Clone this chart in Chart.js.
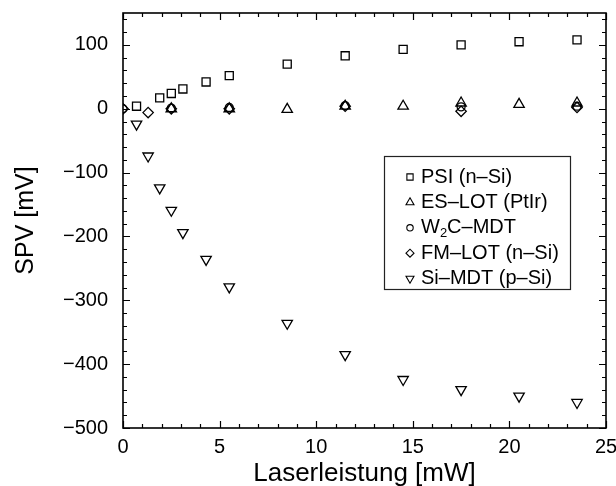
<!DOCTYPE html>
<html>
<head>
<meta charset="utf-8">
<script src="https://cdn.jsdelivr.net/npm/chart.js@4/dist/chart.umd.min.js"></script>
<style>
html,body{margin:0;padding:0;background:#fff;}
#wrap{width:616px;height:486px;}
</style>
</head>
<body>
<div id="wrap"><canvas id="c" width="616" height="486"></canvas></div>
<script>
// ---- data ----
const psiX = [0.7, 1.9, 2.5, 3.1, 4.3, 5.5, 8.5, 11.5, 14.5, 17.5, 20.5, 23.5];
const psiY = [4, 17, 24, 31, 42, 52, 70, 83, 93, 100, 105, 108];

const esX = [2.5, 5.5, 8.5, 11.5, 14.5, 17.5, 20.5, 23.5];
const esY = [0, 0, -1, 4, 4, 9, 7, 9];

const w2cX = [0, 2.5, 5.5, 11.5, 17.5, 23.5];
const w2cY = [0, 1, 2, 5, 3, 4];

const fmX = [0, 1.3, 2.5, 5.5, 11.5, 17.5, 23.5];
const fmY = [0, -6, 0, 0, 4, -4, 2];

const siX = [0.7, 1.3, 1.9, 2.5, 3.1, 4.3, 5.5, 8.5, 11.5, 14.5, 17.5, 20.5, 23.5];
const siY = [-24, -74, -124, -159, -194, -236, -279, -336, -385, -424, -440, -450, -460];

const xTickValues = [0, 5, 10, 15, 20, 25];
const yTickValues = [-500, -400, -300, -200, -100, 0, 100];
const legendLabels = ['PSI (n–Si)', 'ES–LOT (PtIr)', 'W|2|C–MDT', 'FM–LOT (n–Si)', 'Si–MDT (p–Si)'];
const xTitle = 'Laserleistung [mW]';
const yTitle = 'SPV [mV]';

const FONT = "'Liberation Sans', Arial, Helvetica, sans-serif";

function pts(xs, ys) { return xs.map((x, i) => ({x: x, y: ys[i]})); }

const styles = [
  {pointStyle: 'rect', radius: 5.7, rotation: 0},
  {pointStyle: 'triangle', radius: 6, rotation: 0},
  {pointStyle: 'circle', radius: 4, rotation: 0},
  {pointStyle: 'rectRot', radius: 5.2, rotation: 0},
  {pointStyle: 'triangle', radius: 6, rotation: 180}
];
const series = [pts(psiX, psiY), pts(esX, esY), pts(w2cX, w2cY), pts(fmX, fmY), pts(siX, siY)];

const datasets = series.map((d, i) => ({
  label: legendLabels[i].replace(/\|/g, ''),
  data: d,
  showLine: false,
  pointStyle: styles[i].pointStyle,
  pointRadius: styles[i].radius,
  pointHoverRadius: styles[i].radius,
  pointRotation: styles[i].rotation,
  pointBorderColor: '#000',
  pointBackgroundColor: 'rgba(0,0,0,0)',
  pointBorderWidth: 1.3,
  borderColor: '#000',
  backgroundColor: 'rgba(0,0,0,0)'
}));

function drawMarker(ctx, style, r, rot, x, y) {
  if (Chart.helpers && Chart.helpers.drawPoint) {
    ctx.save();
    ctx.fillStyle = 'rgba(0,0,0,0)';
    ctx.strokeStyle = '#000';
    ctx.lineWidth = 1.1;
    Chart.helpers.drawPoint(ctx, {pointStyle: style, radius: r, rotation: rot, borderWidth: 1.1}, x, y);
    ctx.restore();
  }
}

const framePlugin = {
  id: 'frameTicks',
  afterDraw(chart) {
    const ctx = chart.ctx;
    const a = chart.chartArea;
    const xs = chart.scales.x, ys = chart.scales.y;
    ctx.save();
    ctx.strokeStyle = '#000';
    ctx.lineWidth = 1.2;
    ctx.beginPath();
    for (let v = xs.min; v <= xs.max + 1e-9; v += 1) {
      const px = Math.round(xs.getPixelForValue(v)) + 0.5;
      const len = (Math.abs(v % 5) < 1e-9) ? 7 : 4;
      ctx.moveTo(px, a.bottom); ctx.lineTo(px, a.bottom - len);
      ctx.moveTo(px, a.top); ctx.lineTo(px, a.top + len);
    }
    for (let v = -500; v <= ys.max + 1e-9; v += 20) {
      const py = Math.round(ys.getPixelForValue(v)) + 0.5;
      const len = (Math.abs(v % 100) < 1e-9) ? 7 : 4;
      ctx.moveTo(a.left, py); ctx.lineTo(a.left + len, py);
      ctx.moveTo(a.right, py); ctx.lineTo(a.right - len, py);
    }
    ctx.stroke();
    ctx.lineWidth = 1.6;
    ctx.strokeRect(a.left, a.top, a.right - a.left, a.bottom - a.top);

    // legend box
    const L = {x: 384, y: 156, w: 186, h: 133};
    ctx.fillStyle = '#fff';
    ctx.fillRect(L.x, L.y, L.w, L.h);
    ctx.lineWidth = 1.2;
    ctx.strokeStyle = '#222';
    ctx.strokeRect(L.x + 0.5, L.y + 0.5, L.w, L.h);
    const rowY0 = 177, rowDy = 25.4;
    const legR = [4.4, 4.6, 3.2, 4.0, 4.6];
    for (let i = 0; i < legendLabels.length; i++) {
      const yy = rowY0 + i * rowDy;
      drawMarker(ctx, styles[i].pointStyle, legR[i], styles[i].rotation, 410, yy);
      ctx.fillStyle = '#000';
      ctx.textBaseline = 'middle';
      ctx.textAlign = 'left';
      const parts = legendLabels[i].split('|');
      let tx = 421;
      parts.forEach((p, k) => {
        if (k % 2 === 1) {
          ctx.font = '13px ' + FONT;
          ctx.fillText(p, tx, yy + 6);
        } else {
          ctx.font = '20px ' + FONT;
          ctx.fillText(p, tx, yy);
        }
        tx += ctx.measureText(p).width;
      });
    }
    ctx.restore();
  }
};

new Chart(document.getElementById('c'), {
  type: 'scatter',
  data: {datasets: datasets},
  options: {
    responsive: false,
    animation: false,
    events: [],
    layout: {padding: {top: 13, right: 10, left: 0, bottom: 0}},
    plugins: {legend: {display: false}, tooltip: {enabled: false}},
    scales: {
      x: {
        type: 'linear',
        min: 0, max: 25,
        grid: {display: false, drawTicks: false},
        border: {display: false},
        afterBuildTicks: s => { s.ticks = xTickValues.map(v => ({value: v})); },
        afterFit: s => { s.height = 58; s.paddingLeft = 0; s.paddingRight = 0; },
        ticks: {
          color: '#000', padding: 7, maxRotation: 0, autoSkip: false,
          font: {family: FONT, size: 20},
          callback: v => String(v)
        },
        title: {display: true, text: xTitle, color: '#000', font: {family: FONT, size: 26}, padding: {top: 0, bottom: -3}}
      },
      y: {
        type: 'linear',
        min: -500, max: 150,
        grid: {display: false, drawTicks: false},
        border: {display: false},
        afterBuildTicks: s => { s.ticks = yTickValues.map(v => ({value: v})); },
        afterFit: s => { s.width = 123; s.paddingTop = 0; s.paddingBottom = 0; },
        ticks: {
          color: '#000', padding: 15, autoSkip: false,
          font: {family: FONT, size: 20},
          callback: v => (v < 0 ? '\u2212' + Math.abs(v) : String(v))
        },
        title: {display: true, text: yTitle, color: '#000', font: {family: FONT, size: 25}, padding: {top: 11, bottom: 0}}
      }
    }
  },
  plugins: [framePlugin]
});
</script>
</body>
</html>
